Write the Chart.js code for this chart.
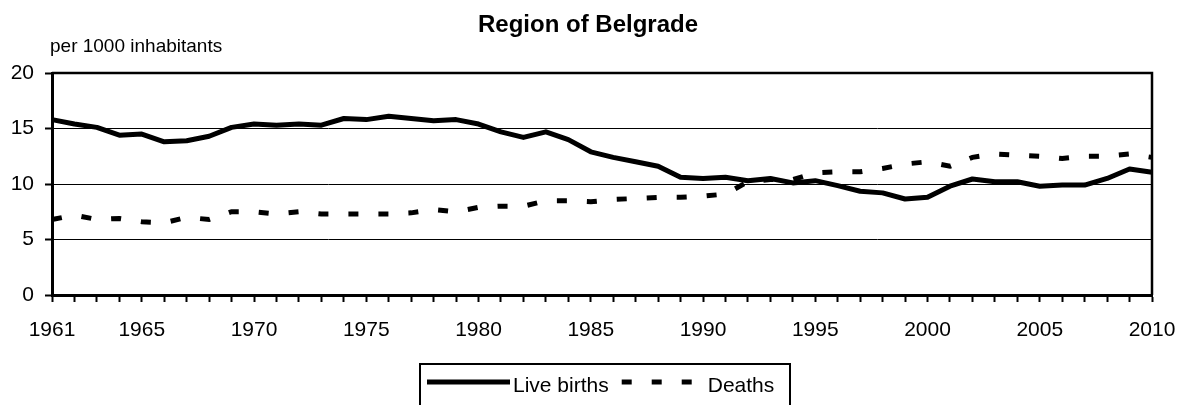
<!DOCTYPE html>
<html>
<head>
<meta charset="utf-8">
<script src="https://cdn.jsdelivr.net/npm/chart.js@4.4.1/dist/chart.umd.min.js"></script>
<style>
html,body{margin:0;padding:0;background:#fff;}
#wrap{position:relative;width:1185px;height:405px;}
</style>
</head>
<body>
<div id="wrap"><canvas id="c"></canvas></div>
<script>
const titleText = 'Region of Belgrade';
const unitText = 'per 1000 inhabitants';

const years = ['1961','1962','1963','1964','1965','1966','1967','1968','1969','1970',
  '1971','1972','1973','1974','1975','1976','1977','1978','1979','1980',
  '1981','1982','1983','1984','1985','1986','1987','1988','1989','1990',
  '1991','1992','1993','1994','1995','1996','1997','1998','1999','2000',
  '2001','2002','2003','2004','2005','2006','2007','2008','2009','2010'];

const shownYears = ['1961','1965','1970','1975','1980','1985','1990','1995','2000','2005','2010'];

const liveBirths = [15.8,15.4,15.1,14.4,14.5,13.8,13.9,14.3,15.1,15.4,
  15.3,15.4,15.3,15.9,15.8,16.1,15.9,15.7,15.8,15.4,
  14.7,14.2,14.7,14.0,12.9,12.4,12.0,11.6,10.6,10.5,
  10.6,10.3,10.5,10.1,10.3,9.85,9.35,9.2,8.65,8.8,
  9.8,10.45,10.2,10.2,9.8,9.9,9.9,10.5,11.35,11.05];

const deaths = [6.8,7.2,6.8,6.9,6.6,6.5,7.0,6.8,7.5,7.5,
  7.3,7.5,7.3,7.3,7.3,7.3,7.4,7.7,7.5,7.9,
  8.0,8.0,8.5,8.5,8.4,8.6,8.7,8.8,8.8,8.9,
  9.1,10.2,10.4,10.4,11.0,11.1,11.1,11.4,11.8,12.0,
  11.6,12.4,12.7,12.6,12.5,12.3,12.5,12.5,12.7,12.4];

const seriesNames = ['Live births', 'Deaths'];
const yMin = 0, yMax = 20, yStep = 5;

const FONT = '"Liberation Sans", Arial, Helvetica, sans-serif';
const TXT = 21;

const decor = {
  id: 'decor',
  afterDraw(chart) {
    const ctx = chart.ctx;
    const a = chart.chartArea;
    ctx.save();
    // top and right frame
    ctx.strokeStyle = '#000';
    ctx.lineWidth = 2.5;
    ctx.beginPath();
    ctx.moveTo(a.left, a.top);
    ctx.lineTo(a.right, a.top);
    ctx.lineTo(a.right, a.bottom);
    ctx.stroke();

    // title
    ctx.fillStyle = '#000';
    ctx.font = 'bold 24px ' + FONT;
    ctx.textAlign = 'center';
    ctx.textBaseline = 'alphabetic';
    ctx.fillText(titleText, 588, 32);

    // unit
    ctx.font = '19px ' + FONT;
    ctx.textAlign = 'left';
    ctx.fillText(unitText, 50, 52);

    // legend
    const boxL = 420, boxR = 790, boxT = 364, boxB = 420;
    ctx.lineWidth = 2;
    ctx.strokeRect(boxL, boxT, boxR - boxL, boxB - boxT);
    ctx.font = TXT + 'px ' + FONT;
    const sampleY = 382, textBase = 391.5, sampleLen = 83;
    let x = 427;
    chart.data.datasets.forEach((ds) => {
      ctx.beginPath();
      ctx.lineWidth = ds.borderWidth;
      ctx.setLineDash(ds.borderDash || []);
      ctx.lineCap = 'butt';
      ctx.moveTo(x, sampleY);
      ctx.lineTo(x + sampleLen, sampleY);
      ctx.stroke();
      ctx.setLineDash([]);
      const tx = x + sampleLen + 3;
      ctx.fillText(ds.label, tx, textBase);
      x = tx + ctx.measureText(ds.label).width + 13;
    });
    ctx.restore();
  }
};

new Chart(document.getElementById('c'), {
  type: 'line',
  data: {
    labels: years,
    datasets: [
      {
        label: seriesNames[0],
        data: liveBirths,
        borderColor: '#000',
        borderWidth: 5,
        borderJoinStyle: 'round',
        pointRadius: 0,
        pointHoverRadius: 0,
        tension: 0,
        fill: false
      },
      {
        label: seriesNames[1],
        data: deaths,
        borderColor: '#000',
        borderWidth: 5,
        borderDash: [10, 20],
        borderCapStyle: 'butt',
        pointRadius: 0,
        pointHoverRadius: 0,
        tension: 0,
        fill: false
      }
    ]
  },
  options: {
    responsive: true,
    maintainAspectRatio: false,
    animation: false,
    events: [],
    layout: { padding: { top: 73, right: 33, bottom: 40, left: 0 } },
    plugins: {
      legend: { display: false },
      title: { display: false },
      tooltip: { enabled: false }
    },
    scales: {
      x: {
        type: 'category',
        offset: false,
        grid: {
          display: true,
          drawOnChartArea: false,
          drawTicks: true,
          tickLength: 7,
          tickWidth: 2,
          tickColor: '#000',
          color: '#000'
        },
        border: { display: true, color: '#000', width: 3 },
        ticks: {
          autoSkip: false,
          maxRotation: 0,
          minRotation: 0,
          padding: 16,
          color: '#000',
          font: { family: FONT, size: TXT },
          callback: function (value) {
            const lab = this.getLabelForValue(value);
            return shownYears.includes(lab) ? lab : '';
          }
        },
        afterFit(scale) {
          scale.height = 70;
          scale.paddingLeft = 0;
          scale.paddingRight = 0;
        }
      },
      y: {
        min: yMin,
        max: yMax,
        grid: {
          display: true,
          color: '#000',
          lineWidth: 1,
          drawTicks: true,
          tickLength: 7,
          tickWidth: 2,
          tickColor: '#000'
        },
        border: { display: true, color: '#000', width: 3 },
        ticks: {
          stepSize: yStep,
          padding: 11,
          color: '#000',
          font: { family: FONT, size: TXT }
        },
        afterFit(scale) {
          scale.width = 52;
          scale.paddingTop = 0;
          scale.paddingBottom = 0;
        }
      }
    }
  },
  plugins: [decor]
});
</script>
</body>
</html>
